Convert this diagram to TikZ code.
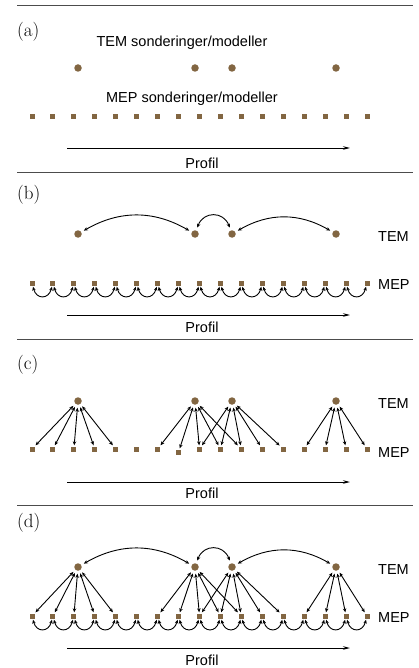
\documentclass[tikz,border=0pt]{standalone}
\usepackage{fontspec}
\newfontfamily\arialf{Liberation Sans}
\usetikzlibrary{arrows.meta}
\definecolor{dotbrown}{RGB}{130,102,66}
\begin{document}
\begin{tikzpicture}[x=1pt,y=-1pt,
  tem/.style={circle,fill=dotbrown,minimum size=7.5pt,inner sep=0pt,outer sep=3pt},
  mep/.style={rectangle,fill=dotbrown,minimum size=5pt,inner sep=0pt,outer sep=1.2pt},
  lab/.style={font=\arialf\fontsize{14.5}{17}\selectfont,inner sep=0pt},
  plab/.style={font=\fontsize{19}{22}\selectfont,inner sep=0pt,anchor=west},
  link/.style={line width=0.9pt,{Stealth[length=4pt,width=3.5pt]}-{Stealth[length=4pt,width=3.5pt]}},
  sep/.style={draw=black!70,line width=1pt},
  prof/.style={line width=0.9pt,-{Stealth[length=7pt,width=3.5pt]}}]
\useasboundingbox (0,0) rectangle (418,668);

% separators
\draw[sep] (17,6) -- (413,6);
\draw[sep] (17,173) -- (413,173);
\draw[sep] (17,339) -- (413,339);
\draw[sep] (17,505) -- (413,505);

% panel labels
\node[plab] (la) at (17,32) {(a)};
\node[plab] (lb) at (17,195) {(b)};
\node[plab] (lc) at (17,365) {(c)};
\node[plab] (ld) at (17,523) {(d)};

% nodes of all panels
\foreach \p/\yd/\ys/\o in {a/68/117/0,b/234/283/0,c/401/449/3,d/567/616/0}{
  \foreach \x [count=\i] in {78,195,232,336}
    \node[tem] (\p-t\i) at (\x,\yd) {};
  \foreach \i in {1,...,17}
    \node[mep] (\p-m\i) at ({32+20.94*(\i-1)},{\ys+ifthenelse(\i==8,\o,0)}) {};
}

% Profil arrows
\foreach \p/\ya/\yt in {a/148/163,b/315/327,c/482/493,d/648/660}{
  \coordinate (\p-ps) at (67,\ya);
  \coordinate (\p-pe) at (350,\ya);
  \draw[prof] (\p-ps) -- (\p-pe);
  \node[lab] (\p-prof) at (202,\yt) {Profil};
}

% panel (a) texts
\node[lab] (a-temtxt) at (182,43) {TEM sonderinger/modeller};
\node[lab] (a-meptxt) at (192,99) {MEP sonderinger/modeller};

% TEM / MEP side labels
\foreach \p/\yt/\ym in {b/237/285,c/404/453,d/570/618}{
  \node[lab,anchor=west] (\p-temlab) at (378,\yt) {TEM};
  \node[lab,anchor=west] (\p-meplab) at (378,\ym) {MEP};
}

% TEM lateral links
\foreach \p in {b,d}{
  \draw[link] (\p-t1) to[out=30,in=150] (\p-t2);
  \draw[link] (\p-t2) to[out=70,in=110,looseness=1.4] (\p-t3);
  \draw[link] (\p-t3) to[out=30,in=150] (\p-t4);
}

% MEP lateral links
\foreach \p in {b,d}{
  \foreach \i [evaluate=\i as \j using int(\i+1)] in {1,...,16}
    \draw[link] (\p-m\i) to[out=-75,in=-105,looseness=1.8] (\p-m\j);
}

% vertical links
\foreach \p in {c,d}{
  \foreach \i in {1,...,5} \draw[link] (\p-t1) -- (\p-m\i);
  \foreach \i in {7,...,11} \draw[link] (\p-t2) -- (\p-m\i);
  \foreach \i in {9,...,13} \draw[link] (\p-t3) -- (\p-m\i);
  \foreach \i in {14,...,17} \draw[link] (\p-t4) -- (\p-m\i);
}
\end{tikzpicture}
\end{document}
